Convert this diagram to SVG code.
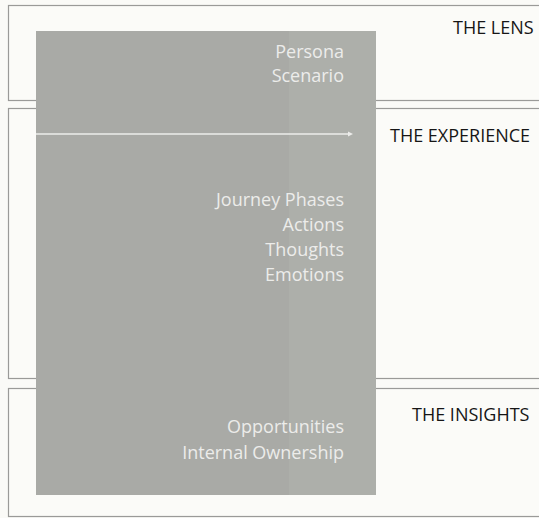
<svg xmlns="http://www.w3.org/2000/svg" width="539" height="518" viewBox="0 0 539 518">
<style>
.sec{fill:#fbfbf8;stroke:#9a9a98;stroke-width:1.2}
.h{font-family:"Open Sans","Liberation Sans",sans-serif;font-size:18px;fill:#161616}
.t{font-family:"Open Sans","Liberation Sans",sans-serif;font-size:18px;fill:#ececea;text-anchor:end}
</style>
<rect width="539" height="518" fill="#fafaf7"/>
<g id="lens">
<rect class="sec" x="8.5" y="5.5" width="535" height="95"/>
<text class="h" x="453" y="34">THE LENS</text>
</g>
<g id="experience">
<rect class="sec" x="8.5" y="108.5" width="535" height="270"/>
<text class="h" x="390" y="142">THE EXPERIENCE</text>
</g>
<g id="insights">
<rect class="sec" x="8.5" y="388.5" width="535" height="128"/>
<text class="h" x="412" y="421">THE INSIGHTS</text>
</g>
<g id="panel">
<rect x="36" y="31" width="340" height="464" fill="#a9aaa6"/>
<rect x="289" y="31" width="87" height="464" fill="#b1b2ae" opacity="0.6"/>
<text class="t" x="344" y="58">Persona</text>
<text class="t" x="344" y="82">Scenario</text>
<text class="t" x="344" y="206">Journey Phases</text>
<text class="t" x="344" y="231">Actions</text>
<text class="t" x="344" y="256">Thoughts</text>
<text class="t" x="344" y="281">Emotions</text>
<text class="t" x="344" y="433">Opportunities</text>
<text class="t" x="344" y="459">Internal Ownership</text>
</g>
<g id="connectors">
<line x1="36" y1="134" x2="350" y2="134" stroke="#ececea" stroke-width="1.5"/>
<path d="M348,131.5 L353,134 L348,136.5 Z" fill="#ececea"/>
</g>
</svg>
